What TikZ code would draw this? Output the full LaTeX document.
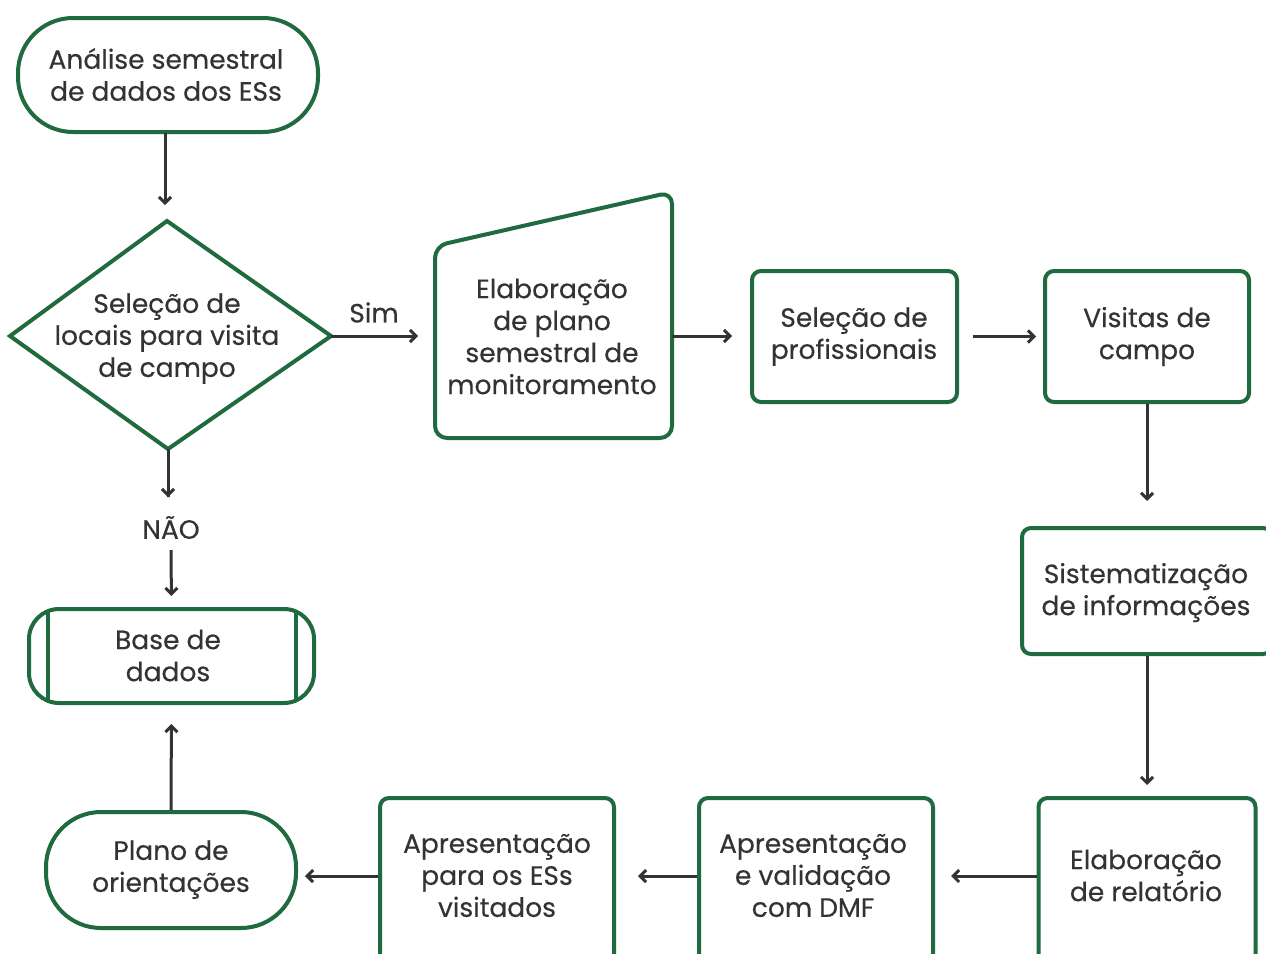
\documentclass[tikz,border=0pt]{standalone}
\usepackage{fontspec}
\setmainfont{Poppins}[FakeBold=0.35]
\usetikzlibrary{arrows.meta}
\definecolor{grn}{HTML}{1F6B3F}
\definecolor{txt}{HTML}{333333}
\begin{document}
\begin{tikzpicture}[x=1pt,y=-1pt,
  font=\fontsize{26.5}{32}\selectfont,
  every node/.style={text=txt, align=center, inner sep=0pt},
  shp/.style={draw=grn, line width=4pt, fill=white},
  boxn/.style={shp, rounded corners=9pt},
  stad/.style={shp, rounded corners=55pt},
  arr/.style={draw=txt, line width=3pt, -{Straight Barb[length=6pt,width=12pt,line width=3pt]}},
  tx/.style={yshift=-0.5pt}]
\useasboundingbox (0,0) rectangle (1266,953);
\fill[white] (0,0) rectangle (1266,953);

% start terminator
\node[stad, minimum width=300pt, minimum height=114pt] (ana) at (168,75) {};
\node[tx] at (166,74) {Análise semestral\\de dados dos ESs};

% decision
\draw[shp, line join=miter] (10,336) -- (167,221) -- (331,336) -- (168,449) -- cycle;
\coordinate (dtop) at (165,221);
\coordinate (dright) at (331,336);
\coordinate (dbot) at (168,449);
\node[tx] (dec) at (167,338) {Seleção de\\locais para visita\\de campo};

% manual input
\draw[shp, rounded corners=12pt] (435,246) -- (672,192) -- (672,438) -- (435,438) -- cycle;
\coordinate (eleft) at (435,336);
\coordinate (eright) at (672,336);
\node[tx] (elab) at (552,336) {Elaboração\\de plano\\semestral de\\monitoramento};

% process boxes
\node[boxn, minimum width=205pt, minimum height=131pt] (sel) at (854.5,336.5) {};
\node[tx] at (854,336) {Seleção de\\profissionais};
\node[boxn, minimum width=204pt, minimum height=131pt] (vis) at (1147,336.5) {};
\node[tx] at (1147,336) {Visitas de\\campo};
\node[boxn, minimum width=250pt, minimum height=126pt] (sis) at (1147,591) {};
\node[tx] at (1146,592) {Sistematização\\de informações};
\node[boxn, minimum width=217pt, minimum height=170pt] (rel) at (1147,883) {};
\node[tx] at (1146,875) {Elaboração\\de relatório};
\node[boxn, minimum width=234pt, minimum height=170pt] (val) at (816,883) {};
\node[tx] at (813,875) {Apresentação\\e validação\\com DMF};
\node[boxn, minimum width=234pt, minimum height=170pt] (apr) at (497,883) {};
\node[tx] at (497,875) {Apresentação\\para os ESs\\visitados};

% end terminator
\node[stad, minimum width=250pt, minimum height=116pt] (pla) at (171,870) {};
\node[tx] at (171,869) {Plano de\\orientações};

% database
\node[shp, rounded corners=30pt, minimum width=285pt, minimum height=94pt] (bas) at (171.5,656) {};
\node[tx] at (168,655) {Base de\\dados};
\draw[grn, line width=4pt] (48,610) -- (48,702);
\draw[grn, line width=4pt] (296,610) -- (296,702);

% labels
\node[tx] (nao) at (171,527) {NÃO};
\node[tx] (sim) at (374,312) {Sim};

% connectors
\draw[arr, shorten >=16pt] (165,133) -- (dtop);
\draw[arr, shorten >=17pt] (dright) -- (eleft);
\draw[arr, shorten >=18pt] (eright) -- (sel.west |- eright);
\draw[arr, shorten <=14pt, shorten >=7pt] (sel.east) -- (vis.west);
\draw[arr, shorten >=25pt] (vis.south) -- (sis.north);
\draw[arr, shorten >=11pt] (sis.south) -- (rel.north);
\draw[arr, shorten >=16pt] (rel.west |- 0,876) -- (val.east |- 0,876);
\draw[arr, shorten >=22pt] (val.west |- 0,876) -- (apr.east |- 0,876);
\draw[arr, shorten >=7pt] (apr.west |- 0,876) -- (pla.east |- 0,876);
\draw[arr, shorten >=19pt] (pla.north) -- (bas.south);
\draw[arr, shorten >=16pt] (dbot) -- (dbot |- 0,497) -- (dbot |- 0,513);
\draw[arr, shorten >=11pt] (171,550) -- (bas.north);
\end{tikzpicture}
\end{document}
